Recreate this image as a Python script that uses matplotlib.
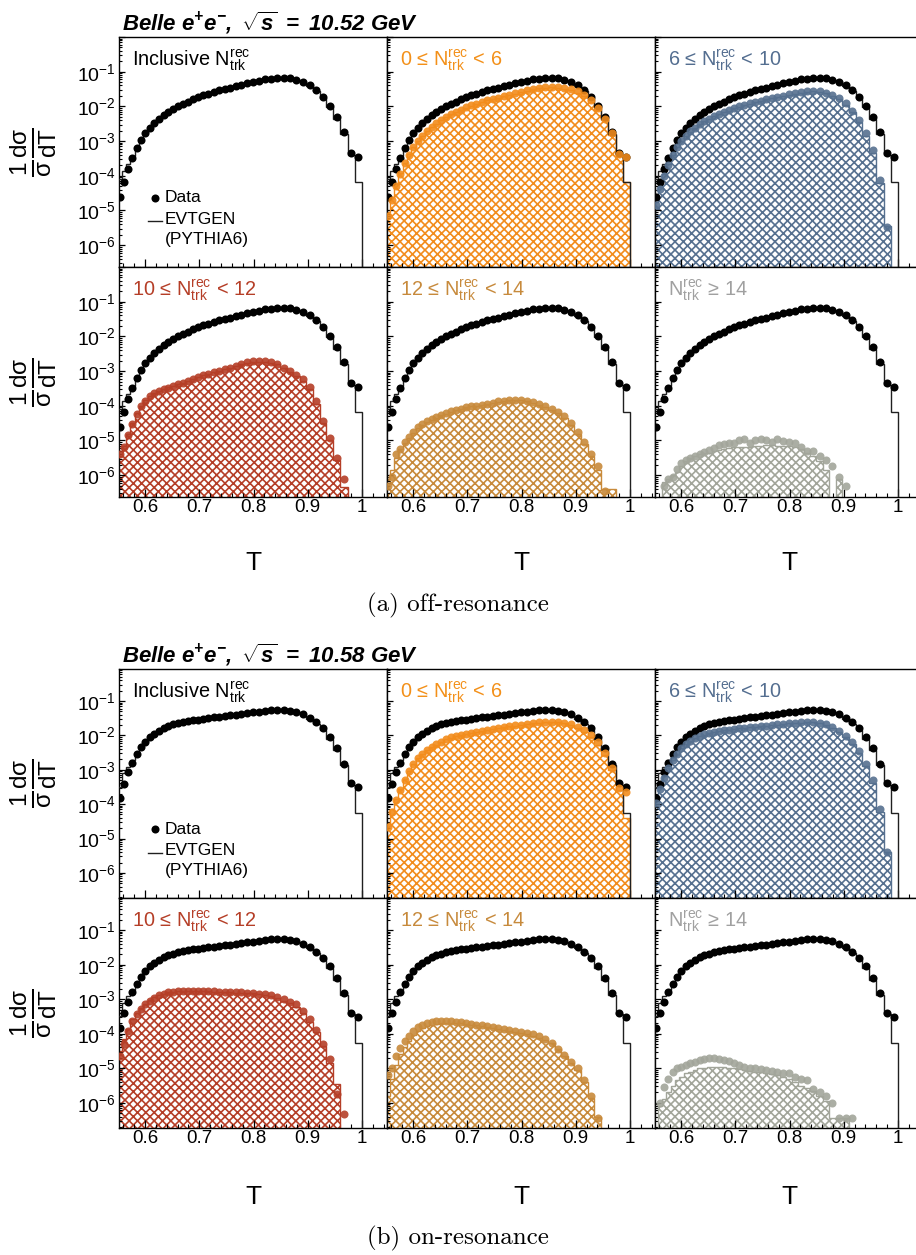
import numpy as np
import matplotlib
matplotlib.use("Agg")
import matplotlib.pyplot as plt
from matplotlib.ticker import FixedLocator, MultipleLocator, LogLocator, FuncFormatter, NullFormatter

plt.rcParams['font.family'] = ['Liberation Sans', 'DejaVu Sans']
plt.rcParams['mathtext.fontset'] = 'custom'
plt.rcParams['mathtext.rm'] = 'Liberation Sans'
plt.rcParams['mathtext.it'] = 'Liberation Sans:italic'
plt.rcParams['mathtext.bf'] = 'Liberation Sans:bold'
plt.rcParams['mathtext.bfit'] = 'Liberation Sans:italic:bold'
plt.rcParams['hatch.linewidth'] = 1.2

nan = np.nan

# thrust bin edges (log-spaced bins)
bin_edges = [0.5500, 0.5575, 0.5652, 0.5729, 0.5807, 0.5887, 0.5967, 0.6049, 0.6132, 0.6215,
             0.6300, 0.6387, 0.6474, 0.6563, 0.6652, 0.6743, 0.6836, 0.6929, 0.7024, 0.7120,
             0.7217, 0.7316, 0.7416, 0.7518, 0.7621, 0.7725, 0.7830, 0.7938, 0.8046, 0.8156,
             0.8268, 0.8381, 0.8496, 0.8612, 0.8730, 0.8849, 0.8970, 0.9093, 0.9217, 0.9343,
             0.9471, 0.9601, 0.9732, 0.9865, 1.0000]

# ---------------- off-resonance (log10 of 1/sigma dsigma/dT) ----------------
off_incl_data = [-4.60, -4.17, -3.80, -3.48, -3.20, -2.97, -2.77, -2.62, -2.48, -2.36,
                 -2.26, -2.16, -2.07, -2.00, -1.92, -1.86, -1.80, -1.74, -1.68, -1.63,
                 -1.58, -1.54, -1.50, -1.46, -1.42, -1.38, -1.34, -1.30, -1.26, -1.22,
                 -1.20, -1.18, -1.18, -1.19, -1.23, -1.29, -1.38, -1.52, -1.72, -1.98,
                 -2.31, -2.75, -3.35, -3.47]
off_incl_mc = [-4.10, -3.85, -3.65, -3.42, -3.18, -2.96, -2.78, -2.62, -2.49, -2.37,
               -2.26, -2.16, -2.08, -2.00, -1.93, -1.86, -1.80, -1.74, -1.69, -1.63,
               -1.59, -1.54, -1.50, -1.46, -1.42, -1.38, -1.34, -1.30, -1.26, -1.23,
               -1.20, -1.19, -1.18, -1.20, -1.24, -1.30, -1.40, -1.55, -1.76, -2.03,
               -2.37, -2.80, -3.40, -4.17]
off_n0_6_data = [-5.15, -4.69, -4.30, -3.95, -3.64, -3.39, -3.17, -3.00, -2.84, -2.71,
                 -2.60, -2.49, -2.39, -2.31, -2.22, -2.16, -2.10, -2.03, -1.97, -1.92,
                 -1.87, -1.83, -1.79, -1.75, -1.70, -1.66, -1.62, -1.58, -1.54, -1.50,
                 -1.47, -1.45, -1.45, -1.45, -1.47, -1.51, -1.56, -1.66, -1.82, -2.05,
                 -2.35, -2.77, -3.36, -3.47]
off_n0_6_mc = [-5.05, -4.62, -4.25, -3.92, -3.62, -3.38, -3.17, -3.00, -2.85, -2.72,
               -2.60, -2.50, -2.40, -2.31, -2.23, -2.16, -2.10, -2.04, -1.98, -1.93,
               -1.88, -1.83, -1.79, -1.75, -1.71, -1.67, -1.63, -1.59, -1.55, -1.51,
               -1.48, -1.46, -1.45, -1.46, -1.49, -1.54, -1.60, -1.70, -1.86, -2.10,
               -2.40, -2.82, -3.42, -4.17]
off_n6_10_data = [-4.85, -4.39, -4.00, -3.68, -3.40, -3.18, -2.99, -2.85, -2.72, -2.61,
                  -2.52, -2.43, -2.35, -2.29, -2.22, -2.17, -2.11, -2.06, -2.00, -1.96,
                  -1.91, -1.87, -1.84, -1.80, -1.76, -1.73, -1.69, -1.65, -1.62, -1.58,
                  -1.57, -1.56, -1.57, -1.60, -1.67, -1.77, -1.91, -2.12, -2.40, -2.78,
                  -3.27, -4.11, -5.49, nan]
off_n6_10_mc = [-4.75, -4.32, -3.96, -3.66, -3.39, -3.18, -3.00, -2.86, -2.73, -2.62,
                -2.52, -2.43, -2.36, -2.29, -2.23, -2.17, -2.12, -2.06, -2.01, -1.96,
                -1.92, -1.88, -1.84, -1.80, -1.77, -1.73, -1.70, -1.66, -1.63, -1.60,
                -1.58, -1.57, -1.58, -1.62, -1.70, -1.80, -1.95, -2.16, -2.45, -2.85,
                -3.35, -4.20, -5.45, nan]
off_n10_12_data = [-5.40, -5.20, -4.85, -4.54, -4.25, -4.01, -3.85, -3.72, -3.64, -3.58,
                   -3.53, -3.48, -3.43, -3.38, -3.33, -3.29, -3.22, -3.16, -3.12, -3.07,
                   -3.03, -3.00, -2.95, -2.90, -2.86, -2.80, -2.75, -2.72, -2.71, -2.71,
                   -2.74, -2.80, -2.90, -3.00, -3.10, -3.24, -3.45, -3.85, -4.44, -4.92,
                   -5.50, -6.12, nan, nan]
off_n10_12_mc = [-5.45, -5.15, -4.80, -4.50, -4.22, -4.00, -3.84, -3.72, -3.64, -3.58,
                 -3.52, -3.47, -3.42, -3.37, -3.33, -3.28, -3.22, -3.17, -3.12, -3.07,
                 -3.03, -2.99, -2.95, -2.90, -2.86, -2.81, -2.77, -2.74, -2.73, -2.73,
                 -2.76, -2.81, -2.92, -3.02, -3.13, -3.28, -3.52, -3.95, -4.50, -5.00,
                 -5.55, -6.35, nan, nan]
off_n12_14_data = [-6.30, -6.05, -5.40, -5.25, -5.05, -4.90, -4.75, -4.62, -4.52, -4.44,
                   -4.38, -4.32, -4.27, -4.22, -4.16, -4.12, -4.08, -4.04, -4.02, -4.00,
                   -3.98, -3.95, -3.91, -3.87, -3.85, -3.83, -3.82, -3.82, -3.86, -3.90,
                   -3.96, -4.02, -4.10, -4.17, -4.30, -4.50, -4.75, -5.05, -5.40, -5.75,
                   -6.45, nan, nan, nan]
off_n12_14_mc = [-6.10, -5.85, -5.50, -5.25, -5.08, -4.93, -4.78, -4.65, -4.55, -4.46,
                 -4.40, -4.34, -4.28, -4.23, -4.18, -4.13, -4.09, -4.05, -4.02, -4.00,
                 -3.97, -3.94, -3.91, -3.88, -3.86, -3.84, -3.83, -3.84, -3.87, -3.92,
                 -3.98, -4.05, -4.13, -4.22, -4.35, -4.55, -4.80, -5.10, -5.45, -5.85,
                 -6.40, -6.40, nan, nan]
off_n14_data = [nan, nan, -6.30, -6.12, -6.05, -5.83, -5.65, -5.55, -5.50, -5.45,
                -5.38, -5.32, -5.28, -5.22, -5.14, -5.10, -5.06, -5.06, -5.00, -4.95,
                -5.06, -5.00, -4.95, -4.99, -5.04, -4.96, -5.02, -5.05, -5.07, -5.20,
                -5.30, -5.30, -5.45, -5.55, -5.75, -6.05, -6.31, nan, nan, nan,
                nan, nan, nan, nan]
off_n14_mc = [nan, nan, -6.20, -6.10, -6.00, -5.90, -5.75, -5.60, -5.50, -5.45,
              -5.40, -5.35, -5.35, -5.30, -5.28, -5.25, -5.22, -5.20, -5.20, -5.18,
              -5.18, -5.15, -5.15, -5.14, -5.14, -5.15, -5.15, -5.16, -5.20, -5.25,
              -5.35, -5.45, -5.60, -5.85, nan, -6.10, nan, nan, nan, nan,
              nan, nan, nan, nan]

# ---------------- on-resonance ----------------
on_incl_data = [-3.82, -3.40, -3.08, -2.80, -2.55, -2.35, -2.18, -2.05, -1.95, -1.86,
                -1.79, -1.73, -1.68, -1.63, -1.60, -1.58, -1.56, -1.54, -1.52, -1.50,
                -1.48, -1.46, -1.44, -1.42, -1.40, -1.37, -1.35, -1.33, -1.31, -1.29,
                -1.27, -1.26, -1.26, -1.28, -1.32, -1.39, -1.49, -1.62, -1.80, -2.05,
                -2.38, -2.82, -3.39, -3.51]
on_incl_mc = [-3.50, -3.10, -2.92, -2.72, -2.52, -2.34, -2.19, -2.06, -1.96, -1.87,
              -1.80, -1.74, -1.68, -1.64, -1.60, -1.58, -1.56, -1.54, -1.52, -1.50,
              -1.48, -1.46, -1.44, -1.42, -1.40, -1.37, -1.35, -1.33, -1.31, -1.29,
              -1.27, -1.26, -1.26, -1.29, -1.33, -1.41, -1.52, -1.66, -1.85, -2.10,
              -2.43, -2.87, -3.44, -4.26]
on_n0_6_data = [-4.67, -4.23, -3.89, -3.59, -3.29, -3.03, -2.82, -2.66, -2.54, -2.43,
                -2.34, -2.26, -2.18, -2.11, -2.06, -2.02, -1.98, -1.95, -1.92, -1.89,
                -1.86, -1.84, -1.81, -1.79, -1.76, -1.73, -1.71, -1.69, -1.66, -1.64,
                -1.62, -1.61, -1.60, -1.61, -1.63, -1.68, -1.75, -1.84, -1.98, -2.20,
                -2.51, -2.95, -3.53, -3.64]
on_n0_6_mc = [-4.55, -4.15, -3.84, -3.56, -3.28, -3.03, -2.83, -2.67, -2.55, -2.44,
              -2.35, -2.27, -2.19, -2.12, -2.07, -2.03, -1.99, -1.96, -1.93, -1.90,
              -1.87, -1.84, -1.82, -1.79, -1.77, -1.74, -1.72, -1.69, -1.67, -1.65,
              -1.63, -1.62, -1.61, -1.62, -1.65, -1.71, -1.79, -1.89, -2.04, -2.27,
              -2.58, -3.02, -3.58, -4.39]
on_n6_10_data = [-3.97, -3.55, -3.23, -2.96, -2.72, -2.53, -2.37, -2.25, -2.16, -2.08,
                 -2.02, -1.97, -1.93, -1.89, -1.86, -1.85, -1.83, -1.82, -1.80, -1.78,
                 -1.77, -1.75, -1.73, -1.72, -1.70, -1.68, -1.66, -1.65, -1.63, -1.62,
                 -1.61, -1.61, -1.63, -1.68, -1.75, -1.86, -2.01, -2.20, -2.46, -2.83,
                 -3.30, -4.14, -5.39, nan]
on_n6_10_mc = [-3.80, -3.45, -3.18, -2.94, -2.71, -2.53, -2.38, -2.26, -2.17, -2.09,
               -2.03, -1.98, -1.94, -1.90, -1.87, -1.85, -1.83, -1.82, -1.80, -1.79,
               -1.77, -1.75, -1.74, -1.72, -1.70, -1.69, -1.67, -1.65, -1.64, -1.63,
               -1.62, -1.62, -1.65, -1.70, -1.78, -1.90, -2.05, -2.25, -2.52, -2.90,
               -3.38, -4.22, -5.40, nan]
on_n10_12_data = [-4.64, -4.30, -3.92, -3.62, -3.42, -3.28, -3.14, -3.04, -2.96, -2.89,
                  -2.84, -2.80, -2.78, -2.76, -2.75, -2.75, -2.75, -2.75, -2.76, -2.76,
                  -2.77, -2.78, -2.78, -2.79, -2.80, -2.80, -2.81, -2.82, -2.84, -2.86,
                  -2.89, -2.94, -3.00, -3.08, -3.15, -3.33, -3.57, -3.90, -4.30, -4.74,
                  -5.74, -6.32, nan, nan]
on_n10_12_mc = [-4.50, -4.15, -3.85, -3.58, -3.40, -3.26, -3.13, -3.03, -2.95, -2.89,
                -2.84, -2.80, -2.78, -2.76, -2.75, -2.75, -2.75, -2.75, -2.76, -2.77,
                -2.78, -2.78, -2.79, -2.80, -2.81, -2.81, -2.82, -2.83, -2.85, -2.88,
                -2.92, -2.97, -3.04, -3.12, -3.22, -3.40, -3.65, -3.95, -4.35, -4.85,
                -5.45, nan, nan, nan]
on_n12_14_data = [-5.20, -5.00, -4.65, -4.41, -4.20, -4.06, -3.92, -3.81, -3.74, -3.69,
                  -3.66, -3.63, -3.62, -3.62, -3.63, -3.65, -3.67, -3.69, -3.71, -3.74,
                  -3.76, -3.78, -3.81, -3.83, -3.86, -3.89, -3.91, -3.94, -3.98, -4.02,
                  -4.08, -4.14, -4.26, -4.45, -4.62, -4.82, -5.00, -5.35, -5.80, -6.45,
                  nan, nan, nan, nan]
on_n12_14_mc = [-5.80, -5.30, -4.90, -4.60, -4.38, -4.20, -4.05, -3.93, -3.84, -3.78,
                -3.74, -3.71, -3.69, -3.68, -3.68, -3.69, -3.70, -3.72, -3.74, -3.76,
                -3.78, -3.80, -3.83, -3.85, -3.88, -3.91, -3.94, -3.97, -4.01, -4.06,
                -4.12, -4.19, -4.28, -4.45, -4.65, -4.85, -5.05, -5.40, -5.85, -6.40,
                nan, nan, nan, nan]
on_n14_data = [nan, -6.00, -5.55, -5.30, -5.12, -5.00, -4.95, -4.90, -4.86, -4.81,
               -4.76, -4.72, -4.70, -4.69, -4.72, -4.76, -4.80, -4.85, -4.90, -4.95,
               -5.00, -4.98, -5.02, -5.05, -5.08, -5.10, -5.13, -5.15, -5.25, -5.32,
               -5.35, -5.60, -5.70, -5.80, -6.00, -6.45, -6.45, -6.45, nan, nan,
               nan, nan, nan, nan]
on_n14_mc = [nan, -6.10, -5.90, -5.70, -5.50, -5.35, -5.25, -5.15, -5.10, -5.05,
             -5.00, -4.98, -4.96, -4.95, -4.95, -4.96, -4.98, -5.00, -5.02, -5.05,
             -5.08, -5.10, -5.12, -5.14, -5.17, -5.20, -5.25, -5.30, -5.40, -5.50,
             -5.58, -5.65, -5.80, -5.95, -6.45, -6.45, -6.45, nan, nan, nan,
             nan, nan, nan, nan]

# category labels and colours
cat_labels = [r'Inclusive $\mathrm{N_{trk}^{rec}}$',
              r'0 ≤ $\mathrm{N_{trk}^{rec}}$ < 6',
              r'6 ≤ $\mathrm{N_{trk}^{rec}}$ < 10',
              r'10 ≤ $\mathrm{N_{trk}^{rec}}$ < 12',
              r'12 ≤ $\mathrm{N_{trk}^{rec}}$ < 14',
              r'$\mathrm{N_{trk}^{rec}}$ ≥ 14']
cat_colors = ['black', '#F28C1C', '#56708F', '#B53E27', '#C88A3B', '#A2A59A']
label_colors = ['black', '#F39019', '#546E90', '#B53E27', '#C78A3C', '#A0A0A0']

titles = [r'$\mathbfit{Belle\ e^{+}e^{-},\ \sqrt{s}\ =\ 10.52\ GeV}$',
          r'$\mathbfit{Belle\ e^{+}e^{-},\ \sqrt{s}\ =\ 10.58\ GeV}$']
captions = ['(a) off-resonance', '(b) on-resonance']

blocks = [
    dict(incl=(off_incl_data, off_incl_mc),
         cats=[None, (off_n0_6_data, off_n0_6_mc), (off_n6_10_data, off_n6_10_mc),
               (off_n10_12_data, off_n10_12_mc), (off_n12_14_data, off_n12_14_mc),
               (off_n14_data, off_n14_mc)],
         rows=(37, 267, 497), ylim=(10 ** -6.63, 10 ** 0.0),
         title_y=30, xlab_y=563, cap_y=605),
    dict(incl=(on_incl_data, on_incl_mc),
         cats=[None, (on_n0_6_data, on_n0_6_mc), (on_n6_10_data, on_n6_10_mc),
               (on_n10_12_data, on_n10_12_mc), (on_n12_14_data, on_n12_14_mc),
               (on_n14_data, on_n14_mc)],
         rows=(669, 898, 1128), ylim=(10 ** -6.73, 10 ** -0.07),
         title_y=662, xlab_y=1197, cap_y=1238),
]

W, H = 916, 1255
fig = plt.figure(figsize=(W / 100, H / 100), dpi=100)
col_left = [119, 387, 655]
col_w = 268
edges = np.array(bin_edges)
centers = 0.5 * (edges[1:] + edges[:-1])
FLOOR = 1e-12
MS = 5.8


def to_lin(v):
    return np.nan_to_num(10.0 ** np.array(v, dtype=float), nan=FLOOR)


for blk, title, cap in zip(blocks, titles, captions):
    r0, r1, r2 = blk['rows']
    row_bounds = [(r0, r1), (r1, r2)]
    inc_d, inc_m = blk['incl']
    for idx in range(6):
        row, col = divmod(idx, 3)
        ytop, ybot = row_bounds[row]
        ax = fig.add_axes([col_left[col] / W, 1 - ybot / H, col_w / W, (ybot - ytop) / H])
        ax.set_yscale('log')
        cat = blk['cats'][idx]
        color = cat_colors[idx]
        if cat is not None:
            cd, cm = cat
            mv = to_lin(cm)
            ax.stairs(mv, edges, baseline=FLOOR, fill=True, facecolor='none',
                      edgecolor=color, hatch='xxxx', linewidth=0, zorder=1)
            ax.stairs(mv, edges, baseline=FLOOR, fill=False, color=color,
                      linewidth=1.0, zorder=2)
        ax.stairs(to_lin(inc_m), edges, baseline=FLOOR, fill=False, color='#202020',
                  linewidth=1.0, zorder=3)
        ax.plot(centers, 10.0 ** np.array(inc_d), 'o', color='black', ms=MS, mew=0, zorder=4)
        if cat is not None:
            ax.plot(centers, 10.0 ** np.array(cd, dtype=float), 'o', color=color, ms=MS,
                    mew=0, alpha=0.9, zorder=5)

        ax.set_xlim(0.552, 1.046)
        ax.set_ylim(*blk['ylim'])
        ax.xaxis.set_major_locator(FixedLocator([0.6, 0.7, 0.8, 0.9, 1.0]))
        ax.xaxis.set_minor_locator(MultipleLocator(0.02))
        ax.yaxis.set_major_locator(FixedLocator([1e-6, 1e-5, 1e-4, 1e-3, 1e-2, 1e-1, 1e0]))
        ax.yaxis.set_minor_locator(LogLocator(base=10, subs=np.arange(2, 10), numticks=20))
        ax.tick_params(which='both', direction='in', top=False, right=False)
        ax.tick_params(axis='x', which='major', length=5.5, width=0.9, labelsize=13.5, pad=1.5)
        ax.tick_params(axis='x', which='minor', length=2.8, width=0.8)
        ax.tick_params(axis='y', which='major', length=4.5, width=0.9, labelsize=14, pad=2.5)
        ax.tick_params(axis='y', which='minor', length=2.5, width=0.8)
        for sp in ax.spines.values():
            sp.set_linewidth(1.0)
        if row == 1:
            ax.xaxis.set_major_formatter(FuncFormatter(lambda v, p: '%g' % v))
        else:
            ax.xaxis.set_major_formatter(NullFormatter())
        if col == 0:
            ax.yaxis.set_major_formatter(FuncFormatter(
                lambda v, p: (r'$10^{%d}$' % int(round(np.log10(v)))) if v < 0.5 else ''))
        else:
            ax.yaxis.set_major_formatter(NullFormatter())
        ax.yaxis.set_minor_formatter(NullFormatter())

        ax.text(0.05, 0.876, cat_labels[idx], transform=ax.transAxes, fontsize=14.3,
                color=label_colors[idx], va='baseline', ha='left')

        if idx == 0:
            ax.plot([0.134], [0.300], 'o', color='black', ms=MS, mew=0,
                    transform=ax.transAxes, clip_on=False)
            ax.text(0.172, 0.300, 'Data', transform=ax.transAxes, fontsize=12.5,
                    va='center', ha='left')
            ax.plot([0.108, 0.160], [0.198, 0.198], color='#202020', lw=1.0,
                    transform=ax.transAxes)
            ax.text(0.172, 0.206, 'EVTGEN', transform=ax.transAxes, fontsize=12.5,
                    va='center', ha='left')
            ax.text(0.172, 0.118, '(PYTHIA6)', transform=ax.transAxes, fontsize=12.5,
                    va='center', ha='left')

    fig.text(122 / W, 1 - blk['title_y'] / H, title, fontsize=16, va='baseline', ha='left')
    for (ytop, ybot) in row_bounds:
        fig.text(33 / W, 1 - 0.5 * (ytop + ybot) / H,
                 r'$\mathrm{\frac{1}{\sigma}\frac{d\sigma}{dT}}$',
                 rotation=90, fontsize=25, ha='center', va='center')
    for col in range(3):
        fig.text((col_left[col] + col_w / 2) / W, 1 - blk['xlab_y'] / H, 'T',
                 fontsize=19, ha='center', va='center')
    fig.text(458 / W, 1 - blk['cap_y'] / H, cap, fontsize=18, family='cmr10',
             ha='center', va='center')

fig.savefig('out.png', dpi=100)
